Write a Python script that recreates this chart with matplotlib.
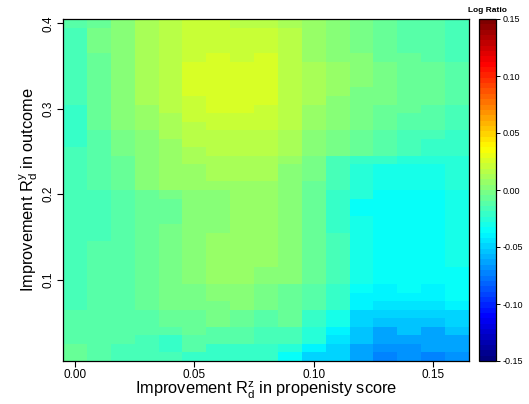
import numpy as np
import matplotlib
matplotlib.use('Agg')
from matplotlib import pyplot as plt
from matplotlib.colors import LinearSegmentedColormap, Normalize

plt.rcParams['font.family'] = ['Liberation Sans', 'DejaVu Sans']
plt.rcParams['mathtext.fontset'] = 'custom'
plt.rcParams['mathtext.rm'] = 'Liberation Sans'
plt.rcParams['mathtext.it'] = 'Liberation Sans'

# grid of the sensitivity surface
r2_treat = [0.00, 0.01, 0.02, 0.03, 0.04, 0.05, 0.06, 0.07, 0.08,
            0.09, 0.10, 0.11, 0.12, 0.13, 0.14, 0.15, 0.16]
r2_outcome = [0.40, 0.39, 0.38, 0.37, 0.36, 0.35, 0.34, 0.33, 0.32, 0.31,
              0.30, 0.29, 0.28, 0.27, 0.26, 0.25, 0.24, 0.23, 0.22, 0.21,
              0.20, 0.19, 0.18, 0.17, 0.16, 0.15, 0.14, 0.13, 0.12, 0.11,
              0.10, 0.09, 0.08, 0.07, 0.06, 0.05, 0.04, 0.03, 0.02, 0.01]

# log ratio x 1000, one row per r2_outcome value (top to bottom)
log_ratio_milli = [
    [-12, -5, 0, 11, 16, 20, 20, 18, 18, 13, 7, 3, -4, -9, -12, -14, -17],
    [-17, -4, 3, 13, 18, 21, 23, 20, 19, 15, 8, 4, -2, -7, -10, -12, -16],
    [-17, -4, 3, 13, 18, 21, 23, 20, 19, 15, 8, 4, -2, -7, -10, -12, -16],
    [-17, -4, 3, 13, 18, 21, 23, 20, 19, 15, 8, 4, -2, -7, -10, -12, -16],
    [-17, -7, 3, 13, 18, 21, 27, 20, 27, 15, 8, 4, 0, -6, -9, -12, -16],
    [-17, -7, 3, 13, 18, 27, 27, 27, 27, 18, 11, 5, 0, -4, -7, -9, -14],
    [-17, -7, 3, 13, 18, 27, 27, 27, 27, 18, 11, 5, 0, -4, -7, -9, -14],
    [-17, -7, 3, 10, 18, 27, 27, 27, 27, 18, 11, 5, 0, -4, -7, -9, -14],
    [-17, -9, 0, 10, 16, 27, 27, 27, 27, 18, 11, 5, -2, -4, -7, -9, -14],
    [-17, -9, 0, 10, 16, 21, 27, 27, 27, 18, 11, 3, -2, -4, -7, -9, -14],
    [-22, -9, 0, 7, 16, 21, 27, 27, 22, 16, 8, 3, -2, -6, -9, -12, -16],
    [-22, -9, 0, 7, 11, 21, 21, 21, 20, 15, 7, 2, -3, -8, -11, -14, -17],
    [-19, -9, 0, 7, 11, 16, 21, 21, 20, 15, 7, 2, -3, -8, -11, -14, -17],
    [-19, -12, -4, 4, 11, 16, 16, 16, 17, 11, 4, -2, -6, -12, -15, -18, -20],
    [-19, -12, -4, 4, 8, 16, 16, 16, 16, 10, 3, -3, -7, -14, -17, -19, -21],
    [-17, -12, -4, 4, 8, 13, 16, 16, 16, 10, 3, -3, -8, -14, -17, -19, -21],
    [-17, -14, -8, 0, 8, 13, 11, 11, 13, 6, -1, -16, -23, -23, -25, -26, -25],
    [-17, -14, -8, 0, 5, 8, 11, 11, 11, 3, -3, -17, -25, -31, -32, -32, -28],
    [-17, -14, -8, 0, 5, 8, 11, 11, 11, 3, -4, -18, -26, -31, -32, -32, -28],
    [-17, -14, -8, 0, 5, 8, 7, 8, 9, 1, -5, -18, -26, -31, -32, -32, -28],
    [-16, -16, -14, -9, -2, 0, 0, 6, 5, 2, -7, -19, -27, -37, -37, -33, -30],
    [-16, -16, -14, -9, -7, 0, 0, 6, 5, 2, -8, -19, -36, -37, -37, -33, -30],
    [-16, -16, -14, -9, -7, 0, 0, 6, 5, 2, -8, -19, -36, -37, -37, -33, -30],
    [-16, -16, -14, -9, -7, 0, 0, 6, 5, 2, -8, -19, -31, -37, -37, -33, -30],
    [-16, -16, -14, -9, -4, 0, 0, 6, 5, 2, -8, -19, -31, -37, -37, -33, -30],
    [-16, -16, -14, -9, -4, 0, 5, 6, 5, 0, -8, -18, -31, -35, -35, -33, -30],
    [-17, -12, -10, -7, -4, 3, 5, 6, 5, 0, -9, -18, -31, -35, -35, -33, -30],
    [-17, -12, -10, -7, -4, 3, 5, 6, 5, 0, -9, -18, -31, -35, -35, -33, -30],
    [-17, -12, -10, -7, -4, 3, 5, 6, 5, 0, -9, -18, -31, -35, -35, -33, -30],
    [-17, -12, -10, -7, -4, 3, 5, 6, 3, 0, -9, -18, -31, -35, -37, -33, -33],
    [-17, -12, -10, -7, -4, 3, 5, 6, 3, 0, -9, -18, -31, -35, -37, -33, -33],
    [-17, -12, -10, -7, -4, -2, 0, 2, -3, -6, -12, -20, -36, -38, -37, -38, -33],
    [-17, -12, -10, -7, -4, -2, 0, 2, -3, -6, -12, -20, -39, -39, -38, -39, -37],
    [-17, -12, -10, -7, -4, -2, -4, 2, -3, -6, -13, -22, -40, -46, -44, -44, -41],
    [-14, -12, -12, -10, -9, -8, -4, -6, -10, -9, -19, -31, -49, -47, -47, -47, -49],
    [-14, -12, -12, -10, -9, -8, -4, -6, -10, -9, -19, -31, -49, -54, -56, -54, -49],
    [-14, -12, -12, -10, -14, -8, -12, -11, -16, -16, -28, -40, -54, -61, -56, -61, -55],
    [-14, -12, -12, -16, -19, -14, -12, -11, -16, -16, -28, -45, -54, -61, -63, -65, -61],
    [-5, -11, -17, -16, -19, -14, -22, -22, -21, -27, -40, -51, -61, -69, -70, -65, -65],
    [-5, -11, -17, -16, -17, -19, -22, -22, -21, -33, -47, -51, -61, -73, -70, -72, -70],
]

x_ticks = [0.00, 0.05, 0.10, 0.15]
x_ticklabels = ['0.00', '0.05', '0.10', '0.15']
y_ticks = [0.1, 0.2, 0.3, 0.4]
y_ticklabels = ['0.1', '0.2', '0.3', '0.4']
cbar_ticks = [-0.15, -0.10, -0.05, 0.00, 0.05, 0.10, 0.15]

z = np.array(log_ratio_milli) / 1000.0

# R style jet.colors ramp, cut into 64 bands
jet_r = LinearSegmentedColormap.from_list(
    'jet_r', ['#00007F', 'blue', '#007FFF', 'cyan', '#7FFF7F',
              'yellow', '#FF7F00', 'red', '#7F0000'], N=64)
norm = Normalize(vmin=-0.15, vmax=0.15)

fig = plt.figure(figsize=(5.29, 4.04), dpi=100)
ax = fig.add_axes([63 / 529, 43 / 404, 406 / 529, 342 / 404])
cax = fig.add_axes([479 / 529, 43 / 404, 17 / 529, 342 / 404])

xs = np.array(r2_treat)
ys = np.array(r2_outcome)
xe = np.concatenate([xs - 0.005, [xs[-1] + 0.005]])
ye = np.concatenate([ys + 0.005, [ys[-1] - 0.005]])
mesh = ax.pcolormesh(xe, ye, z, cmap=jet_r, norm=norm, shading='flat')
ax.set_xlim(xe[0], xe[-1])
ax.set_ylim(ye[-1], ye[0])

ax.set_xticks(x_ticks)
ax.set_xticklabels(x_ticklabels)
ax.set_yticks(y_ticks)
ax.set_yticklabels(y_ticklabels, rotation=90, va='center')
ax.tick_params(axis='both', direction='out', length=4.5, width=0.8,
               labelsize=8.5, pad=1.5)
for s in ax.spines.values():
    s.set_linewidth(0.9)

ax.set_xlabel(r'Improvement $\mathrm{R}_\mathrm{d}^\mathrm{z}$ in propenisty score',
              fontsize=11.8, labelpad=-1)
ax.set_ylabel(r'Improvement $\mathrm{R}_\mathrm{d}^\mathrm{y}$ in outcome',
              fontsize=11.8, labelpad=2)

cb = fig.colorbar(mesh, cax=cax, ticks=cbar_ticks)
cb.ax.set_yticklabels(['%.2f' % t for t in cbar_ticks])
cb.ax.tick_params(direction='out', length=3, width=0.7, labelsize=6.5, pad=2)
cb.outline.set_linewidth(0.9)
cax.set_title('Log Ratio', fontsize=6, fontweight='bold', pad=5)

plt.savefig('out.png', dpi=100)
